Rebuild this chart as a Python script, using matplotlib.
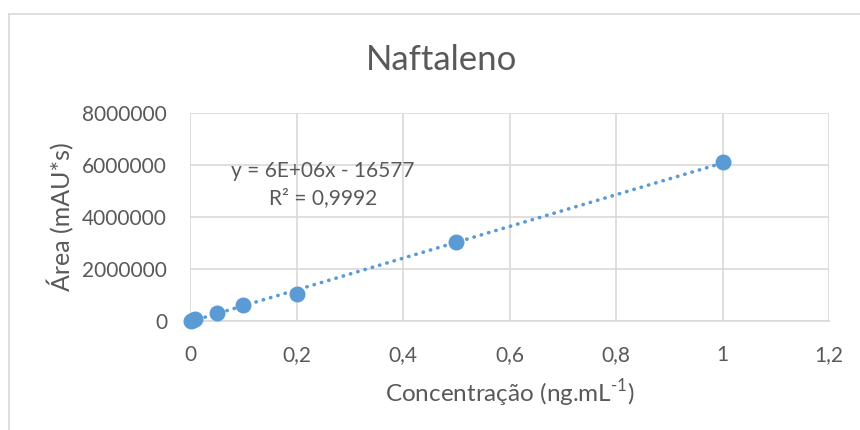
import numpy as np
import matplotlib
matplotlib.use("Agg")
import matplotlib.pyplot as plt
from matplotlib.lines import Line2D
from matplotlib.ticker import FuncFormatter, MultipleLocator

plt.rcParams['font.family'] = ['Lato', 'DejaVu Sans']
plt.rcParams['mathtext.fontset'] = 'custom'
plt.rcParams['mathtext.rm'] = 'Lato'

# Calibration data: naphthalene
concentracao = [0.001, 0.005, 0.01, 0.05, 0.1, 0.2, 0.5, 1.0]
area = [6000, 30000, 61000, 298000, 619000, 1044000, 3030000, 6100000]

titulo = "Naftaleno"
eq_texto = "y = 6E+06x - 16577"
r2_texto = "R² = 0,9992"

blue = "#5B9BD5"
txt = "#595959"
grid = "#D9D9D9"

fig = plt.figure(figsize=(8.6, 4.3), dpi=100)
ax = fig.add_axes([190/860, 1-321/430, (829-190)/860, (321-113)/430])

# Linear trendline over the data range
coef = np.polyfit(concentracao, area, 1)
xt = np.linspace(min(concentracao), max(concentracao), 200)
ax.plot(xt, np.polyval(coef, xt), color=blue, lw=2.6,
        linestyle=(0, (0.1, 2.0)), dash_capstyle='round', zorder=3)

ax.plot(concentracao, area, 'o', color=blue, ms=10.5, mec=blue, zorder=4,
        clip_on=False)

ax.set_xlim(0, 1.2)
ax.set_ylim(0, 8000000)
ax.xaxis.set_major_locator(MultipleLocator(0.2))
ax.yaxis.set_major_locator(MultipleLocator(2000000))

def fmt_x(v, pos):
    s = f"{v:.1f}".rstrip('0').rstrip('.')
    return s.replace('.', ',')

ax.xaxis.set_major_formatter(FuncFormatter(fmt_x))
ax.yaxis.set_major_formatter(FuncFormatter(lambda v, p: f"{int(round(v))}"))

ax.grid(True, color=grid, lw=1.2)
ax.set_axisbelow(True)
for s in ax.spines.values():
    s.set_visible(False)
ax.spines['bottom'].set_visible(True)
ax.spines['bottom'].set_color(grid)
ax.spines['bottom'].set_linewidth(1.2)
ax.tick_params(length=0, labelsize=15, colors=txt)
ax.tick_params(axis='y', pad=16.5)
ax.tick_params(axis='x', pad=17)

fig.text(442/860, 1-60/430, titulo, ha='center', va='center', fontsize=25,
         color=txt)
ax.set_ylabel("Área (mAU*s)", fontsize=18, color=txt, labelpad=6)
ax.set_xlabel("Concentração (ng.mL$^{\\mathregular{\u20101}}$)", fontsize=17.5,
              color=txt, labelpad=9)

ax.text(0.25, 5760000, eq_texto, ha='center', va='center', fontsize=15,
        color=txt)
ax.text(0.25, 4720000, r2_texto, ha='center', va='center', fontsize=15,
        color=txt)

# Chart frame (top and left edges)
fig.add_artist(Line2D([9/860, 1], [1-14/430, 1-14/430], color="#D9D9D9",
                      lw=1.2, transform=fig.transFigure))
fig.add_artist(Line2D([9/860, 9/860], [0, 1-14/430], color="#D9D9D9",
                      lw=1.2, transform=fig.transFigure))

fig.savefig("out.png", dpi=100, facecolor="white")
